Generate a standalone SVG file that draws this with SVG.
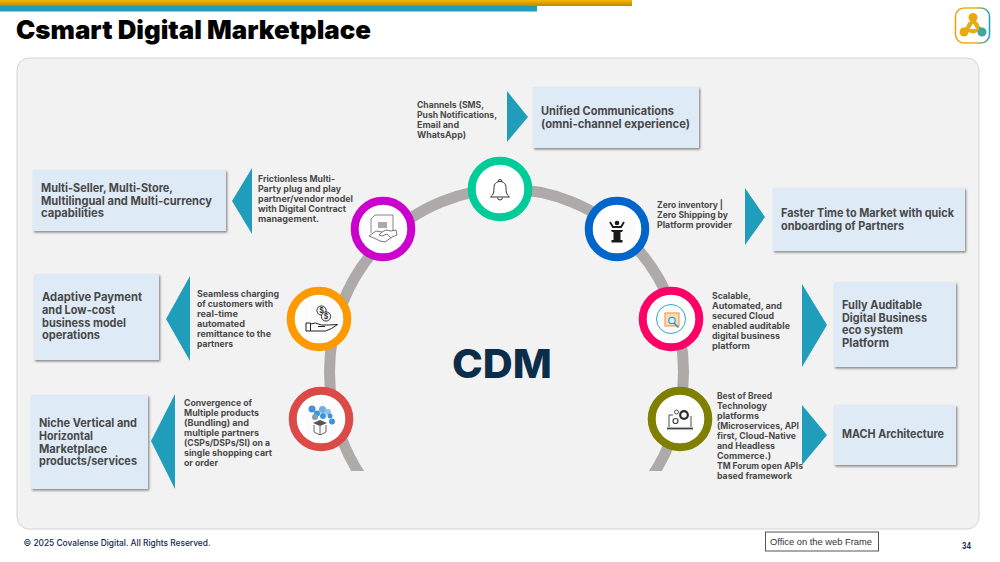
<svg xmlns="http://www.w3.org/2000/svg" width="1000" height="562" viewBox="0 0 1000 562">
<style>
text{font-family:"Inter","Liberation Sans",sans-serif;font-weight:700}
.s{font-size:9px;fill:#4a4a4a}
.b{font-size:11.5px;fill:#484848}
.box{fill:#deeaf6;filter:url(#sh)}
.tri{fill:#1f9dbb}
.ring{fill:#fff;stroke-width:8}
.ln{fill:none;stroke:#444;stroke-width:.8}
</style>
<defs>
<linearGradient id="gold" x1="0" y1="0" x2="0" y2="1"><stop offset="0" stop-color="#f6b800"/><stop offset="1" stop-color="#b88a00"/></linearGradient>
<linearGradient id="lg" x1="0" y1="0" x2="1" y2="0"><stop offset="0" stop-color="#f59f0a"/><stop offset=".55" stop-color="#e8b90f"/><stop offset="1" stop-color="#1f9dbb"/></linearGradient>
<filter id="sh" x="-5%" y="-5%" width="112%" height="115%"><feDropShadow dx="1.2" dy="1.5" stdDeviation="1" flood-color="#000" flood-opacity=".45"/></filter>
<clipPath id="arcClip"><rect x="300" y="150" width="400" height="321"/></clipPath>
</defs>
<rect width="1000" height="562" fill="#fff"/>
<rect x="0" y="0" width="632" height="6" fill="url(#gold)"/>
<rect x="0" y="6" width="537" height="5.5" fill="#1f9dbb"/>
<text x="16" y="39" style="font-size:26px;fill:#000;font-weight:900" textLength="355" lengthAdjust="spacingAndGlyphs">Csmart Digital Marketplace</text>
<g id="logo">
<rect x="955.500" y="8" width="34" height="35" rx="8.500" fill="#fff" stroke="url(#lg)" stroke-width="1.500"/>
<g fill="none" stroke="url(#lg)" stroke-linecap="round"><path d="M973 18v8M973 26l-8 5M973 26l8 5" stroke-width="6"/></g>
<circle cx="973" cy="17.500" r="4.500" fill="#e8a90f"/><circle cx="964" cy="32" r="4.500" fill="#e8a90f"/><circle cx="982" cy="32" r="4.500" fill="#3fa6a6"/>
<circle cx="973" cy="27" r="6.500" fill="#e2b012"/>
<path d="M973 23.500l3.500 5.500h-7z" fill="#fff"/>
</g>
<rect id="panel" x="17" y="58" width="962" height="471" rx="12" fill="#f2f2f2" stroke="#d4d4d4"/>
<g id="connectors">
<ellipse cx="506.500" cy="372" rx="177" ry="183" fill="none" stroke="#aeaaaa" stroke-width="11" clip-path="url(#arcClip)"/>
<polygon class="tri" points="507,91 528,117 507,142"/>
<polygon class="tri" points="232,201 252,168 252,234"/>
<polygon class="tri" points="166,319 190,276 190,361"/>
<polygon class="tri" points="151,441 175,394 175,489"/>
<polygon class="tri" points="745,188 765,217 745,245"/>
<polygon class="tri" points="802,284 827,325 802,367"/>
<polygon class="tri" points="802,405 827,435 802,465"/>
</g>
<text id="center-label" x="502" y="378" text-anchor="middle" style="font-size:40px;fill:#0b2d4a;font-weight:800" textLength="100" lengthAdjust="spacingAndGlyphs">CDM</text>
<g id="node-bell">
<circle class="ring" cx="500" cy="189" r="28.300" stroke="#00cc99"/>
<path fill="none" stroke="#333" d="M490.500 197c3-2 3.500-5 3.500-9.500 0-4 3-6 6-6s6 2 6 6c0 4.500 .5 7.500 3.500 9.500zM498 181.500a2 2 0 0 1 4 0M497.500 197.500a2.500 2.500 0 0 0 5 0"/>
</g>
<g id="node-handshake">
<circle class="ring" cx="383" cy="229" r="28.300" stroke="#cc00cc"/>
<path fill="none" stroke="#777" stroke-width=".9" d="M371 233v-14l4-4h18v19"/>
<rect x="378" y="222" width="9" height="6" fill="#aaa"/>
<path fill="#fff" stroke="#666" stroke-width=".9" d="M369 236l7-5 6 1 4-2 5 1 5-1 1 5-5 2-7 5-5-1-6-3zM382 232l-3 3 3 1 5-2 4 4"/>
</g>
<g id="node-podium">
<circle class="ring" cx="617" cy="229" r="28.300" stroke="#0066cc"/>
<rect x="600" y="218" width="36" height="24" fill="#fbfbfb"/>
<path fill="#1a1a1a" d="M611 230h12l-1 2h-1.500v8h2v2.500h-11v-2.500h2v-8h-1.500z"/>
<circle cx="617" cy="223" r="2.300" fill="#1a1a1a"/>
<path fill="none" stroke="#1a1a1a" stroke-width="1.800" d="M610 222l3 5h8l3-5"/>
</g>
<g id="node-payment">
<circle class="ring" cx="319" cy="319" r="28.300" stroke="#ff9900"/>
<rect x="305" y="304" width="33" height="30" fill="#fbfbfb"/>
<circle cx="321.500" cy="310.500" r="4.600" fill="none" stroke="#333" stroke-width="1"/><circle cx="326" cy="316.500" r="4.600" fill="#fbfbfb" stroke="#333" stroke-width="1"/>
<text x="321.500" y="313" text-anchor="middle" style="font-size:7px;fill:#333">$</text>
<text x="326" y="319" text-anchor="middle" style="font-size:7px;fill:#333">$</text>
<path fill="none" stroke="#222" stroke-width="1" d="M306 323h4.500v8h-4.500zM310.500 324l5-1 6 2h7l9-.5-6 4-6 2.500h-15M318 326.500h7"/>
</g>
<g id="node-bundle">
<circle class="ring" cx="321" cy="419" r="28.300" stroke="#dc4a48"/>
<rect x="306" y="403" width="30" height="32" fill="#fbfbfb"/>
<g fill="#3f93d6"><circle cx="312" cy="409" r="3.500"/><circle cx="322.500" cy="409.500" r="3.500" fill="#6ab0e6"/><circle cx="328" cy="412" r="3" fill="#8cc2ea"/><circle cx="317" cy="413.500" r="3"/><circle cx="323" cy="416" r="3"/><circle cx="315" cy="417" r="3" fill="#7f9fb8"/><circle cx="330" cy="416" r="2.500"/><circle cx="332" cy="421.500" r="3"/></g>
<path fill="#555" d="M313 423l7-3 7 3-7 3z"/>
<path class="ln" d="M314 425v7l6 3 6-3v-7M320 426v9"/>
</g>
<g id="node-audit">
<circle class="ring" cx="671" cy="319" r="28.300" stroke="#ff0066"/>
<circle cx="671" cy="319" r="14.500" fill="none" stroke="#2aa6cf" stroke-width="1"/>
<rect x="665" y="313" width="14" height="13" fill="#fbdcb8" stroke="#f0a050" stroke-width="1.200"/>
<circle cx="672" cy="320.500" r="3.200" fill="#dff0f8" stroke="#2a8fc0" stroke-width="1.100"/>
<path d="M674 323l4.500 4.500" stroke="#2a8fc0" stroke-width="1.400"/>
</g>
<g id="node-mach">
<circle class="ring" cx="680" cy="419" r="28.300" stroke="#808000"/>
<rect x="665" y="407" width="30" height="25" fill="#fbfbfb"/>
<path fill="none" stroke="#555" stroke-width="1" d="M669 427v-12h4M691 416v11"/>
<path stroke="#444" stroke-width="1.800" d="M667 428.500h26"/>
<circle cx="684" cy="415" r="3.800" fill="none" stroke="#2a2a2a" stroke-width="2.200"/>
<circle cx="676.500" cy="412" r="2" fill="none" stroke="#555" stroke-width="1"/>
<circle cx="675.500" cy="421" r="2.500" fill="none" stroke="#444" stroke-width="1.200"/>
</g>
<g id="box-unified">
<rect class="box" x="533" y="87" width="166" height="61"/>
<text class="b" x="541" y="115" textLength="133" lengthAdjust="spacingAndGlyphs">Unified Communications</text>
<text class="b" x="541" y="127.500" textLength="149" lengthAdjust="spacingAndGlyphs">(omni-channel experience)</text>
</g>
<g id="box-multi">
<rect class="box" x="33" y="170" width="193" height="61"/>
<text class="b" x="41" y="192" textLength="132" lengthAdjust="spacingAndGlyphs">Multi-Seller, Multi-Store,</text>
<text class="b" x="41" y="204.500" textLength="171" lengthAdjust="spacingAndGlyphs">Multilingual and Multi-currency</text>
<text class="b" x="41" y="217" textLength="63" lengthAdjust="spacingAndGlyphs">capabilities</text>
</g>
<g id="box-adaptive">
<rect class="box" x="34" y="274" width="125" height="86"/>
<text class="b" x="42" y="301" textLength="100" lengthAdjust="spacingAndGlyphs">Adaptive Payment</text>
<text class="b" x="42" y="314" textLength="73" lengthAdjust="spacingAndGlyphs">and Low-cost</text>
<text class="b" x="42" y="326.500" textLength="84" lengthAdjust="spacingAndGlyphs">business model</text>
<text class="b" x="42" y="339" textLength="58" lengthAdjust="spacingAndGlyphs">operations</text>
</g>
<g id="box-niche">
<rect class="box" x="31" y="395" width="117" height="94"/>
<text class="b" x="39" y="427" textLength="98" lengthAdjust="spacingAndGlyphs">Niche Vertical and</text>
<text class="b" x="39" y="440" textLength="54" lengthAdjust="spacingAndGlyphs">Horizontal</text>
<text class="b" x="39" y="452.500" textLength="68" lengthAdjust="spacingAndGlyphs">Marketplace</text>
<text class="b" x="39" y="465" textLength="98" lengthAdjust="spacingAndGlyphs">products/services</text>
</g>
<g id="box-faster">
<rect class="box" x="773" y="188" width="192" height="63"/>
<text class="b" x="781" y="217" textLength="173" lengthAdjust="spacingAndGlyphs">Faster Time to Market with quick</text>
<text class="b" x="781" y="229.500" textLength="123" lengthAdjust="spacingAndGlyphs">onboarding of Partners</text>
</g>
<g id="box-auditable">
<rect class="box" x="834" y="282" width="122" height="85"/>
<text class="b" x="842" y="309" textLength="80" lengthAdjust="spacingAndGlyphs">Fully Auditable</text>
<text class="b" x="842" y="321.500" textLength="85" lengthAdjust="spacingAndGlyphs">Digital Business</text>
<text class="b" x="842" y="334" textLength="61" lengthAdjust="spacingAndGlyphs">eco system</text>
<text class="b" x="842" y="346.500" textLength="47" lengthAdjust="spacingAndGlyphs">Platform</text>
</g>
<g id="box-mach">
<rect class="box" x="834" y="405" width="122" height="60"/>
<text class="b" x="842" y="438" textLength="102" lengthAdjust="spacingAndGlyphs">MACH Architecture</text>
</g>
<g id="label-channels">
<text class="s" x="417" y="107.500" textLength="67" lengthAdjust="spacingAndGlyphs">Channels (SMS,</text>
<text class="s" x="417" y="117.500" textLength="80" lengthAdjust="spacingAndGlyphs">Push Notifications,</text>
<text class="s" x="417" y="127.500" textLength="42" lengthAdjust="spacingAndGlyphs">Email and</text>
<text class="s" x="417" y="137.500" textLength="49" lengthAdjust="spacingAndGlyphs">WhatsApp)</text>
</g>
<g id="label-frictionless">
<text class="s" x="258" y="182" textLength="77" lengthAdjust="spacingAndGlyphs">Frictionless Multi-</text>
<text class="s" x="258" y="192" textLength="83" lengthAdjust="spacingAndGlyphs">Party plug and play</text>
<text class="s" x="258" y="202" textLength="95" lengthAdjust="spacingAndGlyphs">partner/vendor model</text>
<text class="s" x="258" y="212" textLength="88" lengthAdjust="spacingAndGlyphs">with Digital Contract</text>
<text class="s" x="258" y="222" textLength="61" lengthAdjust="spacingAndGlyphs">management.</text>
</g>
<g id="label-seamless">
<text class="s" x="197" y="297" textLength="82" lengthAdjust="spacingAndGlyphs">Seamless charging</text>
<text class="s" x="197" y="307" textLength="76" lengthAdjust="spacingAndGlyphs">of customers with</text>
<text class="s" x="197" y="317" textLength="41" lengthAdjust="spacingAndGlyphs">real-time</text>
<text class="s" x="197" y="327" textLength="48" lengthAdjust="spacingAndGlyphs">automated</text>
<text class="s" x="197" y="337" textLength="74" lengthAdjust="spacingAndGlyphs">remittance to the</text>
<text class="s" x="197" y="347" textLength="36" lengthAdjust="spacingAndGlyphs">partners</text>
</g>
<g id="label-convergence">
<text class="s" x="184" y="406" textLength="68" lengthAdjust="spacingAndGlyphs">Convergence of</text>
<text class="s" x="184" y="416" textLength="75" lengthAdjust="spacingAndGlyphs">Multiple products</text>
<text class="s" x="184" y="426" textLength="65" lengthAdjust="spacingAndGlyphs">(Bundling) and</text>
<text class="s" x="184" y="436" textLength="75" lengthAdjust="spacingAndGlyphs">multiple partners</text>
<text class="s" x="184" y="446" textLength="86" lengthAdjust="spacingAndGlyphs">(CSPs/DSPs/SI) on a</text>
<text class="s" x="184" y="456" textLength="88" lengthAdjust="spacingAndGlyphs">single shopping cart</text>
<text class="s" x="184" y="466" textLength="34" lengthAdjust="spacingAndGlyphs">or order</text>
</g>
<g id="label-zero">
<text class="s" x="657" y="208" textLength="66" lengthAdjust="spacingAndGlyphs">Zero inventory |</text>
<text class="s" x="657" y="218" textLength="71" lengthAdjust="spacingAndGlyphs">Zero Shipping by</text>
<text class="s" x="657" y="228" textLength="75" lengthAdjust="spacingAndGlyphs">Platform provider</text>
</g>
<g id="label-scalable">
<text class="s" x="712" y="299" textLength="39" lengthAdjust="spacingAndGlyphs">Scalable,</text>
<text class="s" x="712" y="309" textLength="70" lengthAdjust="spacingAndGlyphs">Automated, and</text>
<text class="s" x="712" y="319" textLength="62" lengthAdjust="spacingAndGlyphs">secured Cloud</text>
<text class="s" x="712" y="329" textLength="78" lengthAdjust="spacingAndGlyphs">enabled auditable</text>
<text class="s" x="712" y="339" textLength="68" lengthAdjust="spacingAndGlyphs">digital business</text>
<text class="s" x="712" y="349" textLength="38" lengthAdjust="spacingAndGlyphs">platform</text>
</g>
<g id="label-best">
<text class="s" x="717" y="398.500" textLength="55" lengthAdjust="spacingAndGlyphs">Best of Breed</text>
<text class="s" x="717" y="408.500" textLength="50" lengthAdjust="spacingAndGlyphs">Technology</text>
<text class="s" x="717" y="418.500" textLength="42" lengthAdjust="spacingAndGlyphs">platforms</text>
<text class="s" x="717" y="428.500" textLength="82" lengthAdjust="spacingAndGlyphs">(Microservices, API</text>
<text class="s" x="717" y="438.500" textLength="79" lengthAdjust="spacingAndGlyphs">first, Cloud-Native</text>
<text class="s" x="717" y="448.500" textLength="58" lengthAdjust="spacingAndGlyphs">and Headless</text>
<text class="s" x="717" y="458.500" textLength="54" lengthAdjust="spacingAndGlyphs">Commerce.)</text>
<text class="s" x="717" y="468.500" textLength="86" lengthAdjust="spacingAndGlyphs">TM Forum open APIs</text>
<text class="s" x="717" y="478.500" textLength="75" lengthAdjust="spacingAndGlyphs">based framework</text>
</g>
<text id="footer" x="23.500" y="546" style="font-size:9px;fill:#12294d;font-weight:500" textLength="187" lengthAdjust="spacingAndGlyphs">© 2025 Covalense Digital. All Rights Reserved.</text>
<text id="page" x="962" y="549" style="font-size:9px;fill:#12294d" textLength="9" lengthAdjust="spacingAndGlyphs">34</text>
<g id="office-frame">
<rect x="765.500" y="532" width="113" height="19" fill="#fff" stroke="#555"/>
<text x="770" y="545" style="font-family:'Liberation Sans',sans-serif;font-size:9.500px;font-weight:400;fill:#333" textLength="102" lengthAdjust="spacingAndGlyphs">Office on the web Frame</text>
</g>
</svg>
